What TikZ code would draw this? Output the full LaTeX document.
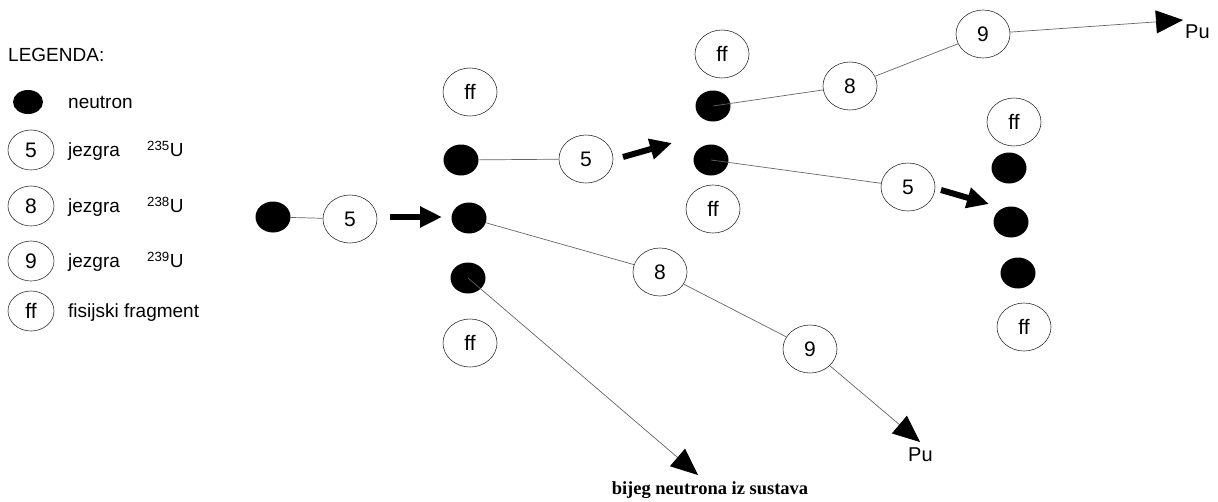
\documentclass[tikz,border=0pt]{standalone}
\usepackage{fontspec}
\setmainfont{Liberation Sans}
\newfontfamily\serifb{Liberation Serif}
\usetikzlibrary{arrows.meta,shapes.geometric}
\begin{document}
\begin{tikzpicture}[x=1pt,y=-1pt,
  nuc/.style={ellipse, draw=black!80, line width=0.6pt, minimum width=54pt, minimum height=48pt, inner sep=0pt, font=\fontsize{21}{24}\selectfont},
  lnuc/.style={nuc, minimum width=46pt, minimum height=40pt},
  neu/.style={ellipse, fill=black, minimum width=35pt, minimum height=31pt, inner sep=0pt},
  lneu/.style={neu, minimum width=30pt, minimum height=24pt},
  lbl/.style={anchor=west, inner sep=0pt, font=\fontsize{19}{22}\selectfont},
  link/.style={draw=black!60, line width=0.7pt},
  flow/.style={link, -{Triangle[length=27pt,width=23pt,color=black]}},
  push/.style={line width=6pt, -{Triangle[length=22pt,width=20pt]}}]
\useasboundingbox (0,0) rectangle (1218,501);

% legend
\node[lbl, font=\fontsize{19}{22}\selectfont] (leg) at (8,55) {LEGENDA:};
\node[lneu] (ln) at (28,102) {};
\node[lbl] (lnt) at (68,102) {neutron};
\node[lnuc] (l5) at (31,150) {5};
\node[lbl] (l5t) at (68,152) {jezgra};
\node[lbl] (l5u) at (147,149) {\textsuperscript{235}U};
\node[lnuc] (l8) at (31,206) {8};
\node[lbl] (l8t) at (68,208) {jezgra};
\node[lbl] (l8u) at (147,205) {\textsuperscript{238}U};
\node[lnuc] (l9) at (31,261) {9};
\node[lbl] (l9t) at (68,263) {jezgra};
\node[lbl] (l9u) at (147,260) {\textsuperscript{239}U};
\node[lnuc] (lff) at (31,311) {ff};
\node[lbl] (lfft) at (68,313) {fisijski fragment};

% start
\node[neu] (n0) at (273,217) {};
\node[nuc] (c5a) at (350,219) {5};

% column 1
\node[nuc] (f1a) at (470,92) {ff};
\node[neu] (n1a) at (461,160) {};
\node[neu] (n1b) at (469,218) {};
\node[neu] (n1c) at (468,278) {};
\node[nuc] (f1b) at (470,343) {ff};

% column 2
\node[nuc] (f2a) at (722,54) {ff};
\node[neu] (n2a) at (713,106) {};
\node[neu] (n2b) at (711,160) {};
\node[nuc] (f2b) at (713,209) {ff};

% column 3
\node[nuc] (f3a) at (1014,122) {ff};
\node[neu] (n3a) at (1009,168) {};
\node[neu] (n3b) at (1011,222) {};
\node[neu] (n3c) at (1018,273) {};
\node[nuc] (f3b) at (1024,327) {ff};

% other nuclei
\node[nuc] (c5b) at (586,159) {5};
\node[nuc] (c5c) at (908,187) {5};
\node[nuc] (c8a) at (850,86) {8};
\node[nuc] (c9a) at (983,34) {9};
\node[nuc] (c8b) at (660,272) {8};
\node[nuc] (c9b) at (810,349) {9};

% end labels
\node[lbl, font=\fontsize{20}{23}\selectfont] (pu1) at (1185,32) {Pu};
\node[lbl, font=\fontsize{20}{23}\selectfont] (pu2) at (908,455) {Pu};
\node[anchor=center, inner sep=0pt, font=\serifb\bfseries\fontsize{18.5}{21}\selectfont] (esc) at (710,490) {bijeg neutrona iz sustava};

\coordinate (t1) at (1183,20);
\coordinate (t2) at (920,442);
\coordinate (t3) at (698,475);

% links
\draw[link] (n0) -- (c5a);
\draw[link] (n1a) -- (c5b);
\draw[link] (n1b) -- (c8b);
\draw[link] (c8b) -- (c9b);
\draw[flow] (c9b) -- (t2);
\draw[flow] (n1c.center) -- (t3);
\draw[link] (n2a.center) -- (c8a);
\draw[link] (c8a) -- (c9a);
\draw[flow] (c9a) -- (t1);
\draw[link] (n2b.center) -- (c5c);

% thick arrows
\coordinate (p1s) at (390,217);
\coordinate (p1e) at (442,217);
\coordinate (p2s) at (623,157);
\coordinate (p2e) at (672,143);
\coordinate (p3s) at (941,190);
\coordinate (p3e) at (989,204);
\draw[push] (p1s) -- (p1e);
\draw[push] (p2s) -- (p2e);
\draw[push] (p3s) -- (p3e);
\end{tikzpicture}
\end{document}
